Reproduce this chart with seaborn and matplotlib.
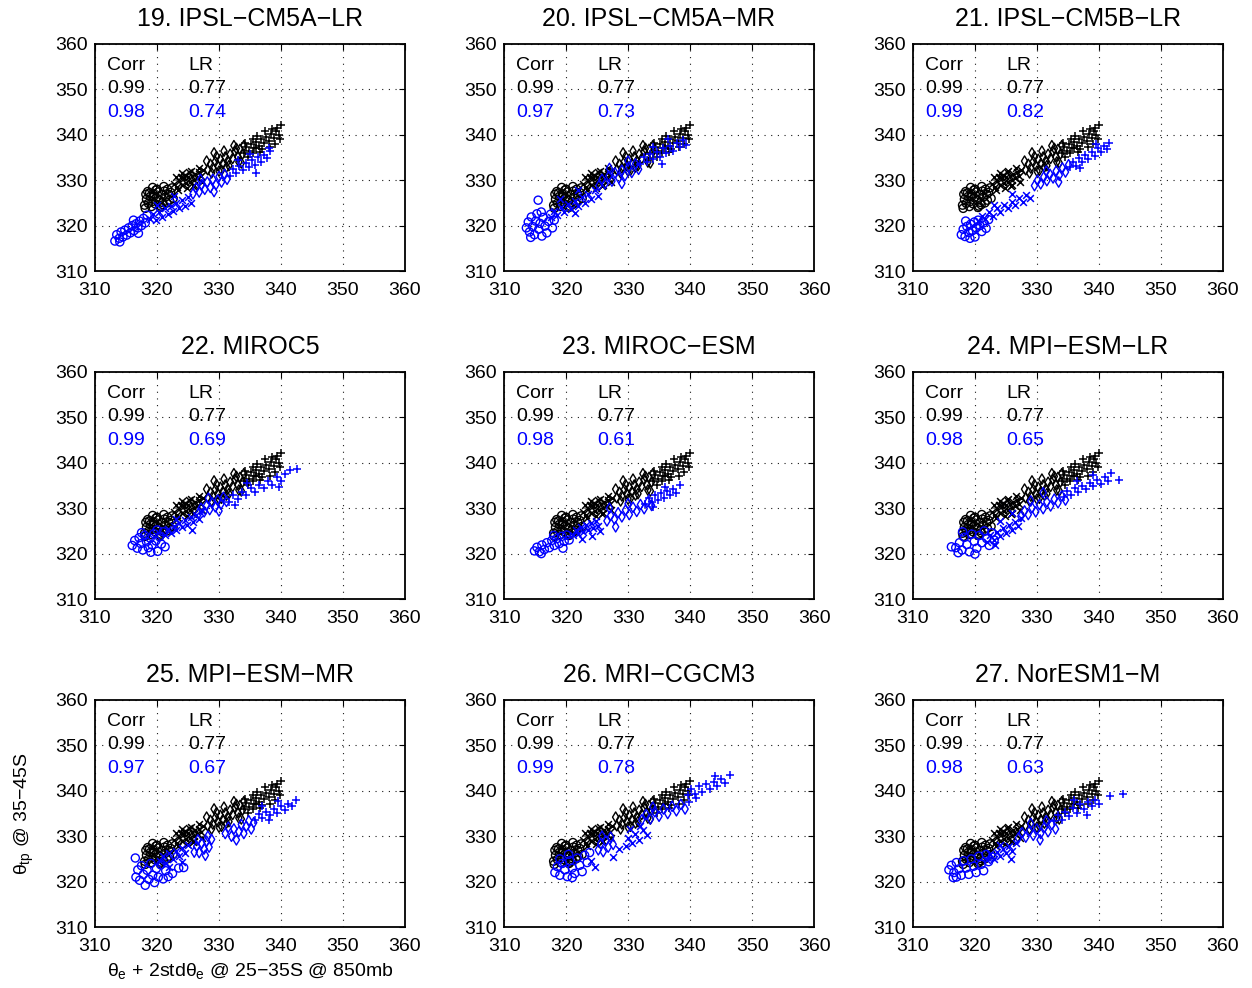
import matplotlib
matplotlib.use("Agg")
import matplotlib.pyplot as plt
import seaborn as sns
import pandas as pd

# ---------------------------------------------------------------------------
# Panel titles and the summary statistics printed inside each panel
# ---------------------------------------------------------------------------
titles = ["19. IPSL−CM5A−LR", "20. IPSL−CM5A−MR", "21. IPSL−CM5B−LR",
          "22. MIROC5", "23. MIROC−ESM", "24. MPI−ESM−LR",
          "25. MPI−ESM−MR", "26. MRI−CGCM3", "27. NorESM1−M"]
ref_corr = "0.99"
ref_lr = "0.77"
model_corr = ["0.98", "0.97", "0.99", "0.99", "0.98", "0.98", "0.97", "0.99", "0.98"]
model_lr = ["0.74", "0.73", "0.82", "0.69", "0.61", "0.65", "0.67", "0.78", "0.63"]

ticks = [310, 320, 330, 340, 350, 360]

# ---------------------------------------------------------------------------
# Reference (reanalysis) points, grouped by marker; same in every panel
# ---------------------------------------------------------------------------
ref_o = ([318.0, 318.3, 318.6, 318.9, 319.2, 319.4, 319.7, 319.9, 320.2, 320.4, 320.7, 320.9,
          321.2, 321.4, 321.7, 321.9, 322.2, 318.8, 320.0, 321.0, 322.4, 319.5, 318.2, 320.6,
          318.5, 319.1, 319.8, 320.5, 321.1, 321.6, 322.0, 318.1, 319.3, 322.6],
         [324.5, 325.8, 324.9, 326.4, 325.3, 327.0, 324.8, 326.1, 327.4, 325.6, 326.8, 325.1,
          327.6, 326.3, 328.0, 326.9, 327.3, 327.2, 328.0, 324.6, 328.3, 326.5, 326.9, 324.3,
          327.5, 324.2, 327.8, 324.0, 328.6, 325.0, 325.6, 323.8, 328.4, 326.0])
ref_x = ([323.2, 323.6, 324.0, 324.3, 324.7, 325.0, 325.3, 325.6, 325.9, 326.2, 326.5, 326.8,
          327.1, 324.5, 325.8, 323.8, 327.4, 322.8, 323.0, 323.4, 324.1, 324.9, 325.4, 326.0,
          326.7, 327.2, 325.1],
         [328.6, 329.8, 328.9, 330.4, 329.3, 330.8, 329.6, 331.0, 330.1, 331.4, 330.5, 331.7,
          330.9, 331.2, 328.8, 330.8, 332.2, 329.2, 330.8, 327.8, 331.6, 328.2, 332.0, 329.0,
          332.6, 329.6, 331.9])
ref_d = ([328.2, 328.6, 329.0, 329.4, 329.8, 330.2, 330.6, 331.0, 331.4, 331.8, 332.2, 332.6,
          333.0, 333.4, 333.8, 329.6, 331.2, 330.0, 332.8, 328.0, 328.8, 329.2, 330.4, 330.8,
          331.6, 332.4, 333.2, 334.0, 333.6],
         [332.3, 333.5, 332.7, 334.1, 333.2, 334.6, 333.6, 335.1, 334.2, 335.7, 334.8, 336.3,
          335.2, 336.8, 335.8, 335.2, 332.9, 332.0, 337.0, 334.2, 331.6, 336.0, 332.2, 336.4,
          333.2, 337.6, 334.0, 337.6, 333.8])
ref_p = ([334.0, 334.4, 334.8, 335.2, 335.6, 336.0, 336.4, 336.8, 337.2, 337.6, 338.0, 338.4,
          338.8, 339.2, 339.6, 335.5, 337.0, 338.6, 339.0, 340.0, 334.2, 334.6, 335.4, 336.2,
          336.6, 337.4, 338.2, 339.4, 339.8, 336.0],
         [336.0, 337.3, 336.5, 337.9, 337.0, 338.5, 337.6, 339.0, 338.2, 339.6, 338.7, 340.2,
          339.3, 340.8, 340.0, 339.0, 336.8, 341.2, 338.0, 342.2, 338.2, 335.2, 336.0, 339.8,
          336.2, 340.8, 337.2, 341.6, 339.0, 337.0])

# ---------------------------------------------------------------------------
# Model points, one small dict per model: marker -> (x values, y values)
# ---------------------------------------------------------------------------
ipsl_cm5a_lr = {
    "o": ([313.2, 313.5, 313.9, 314.2, 314.5, 314.8, 315.1, 315.4, 315.7, 316.0, 316.3, 316.6,
           316.9, 317.2, 317.5, 317.8, 318.1, 318.4, 314.0, 316.2, 317.0],
          [316.6, 318.0, 317.2, 318.6, 317.5, 319.0, 317.9, 319.5, 318.4, 320.0, 318.9, 320.4,
           319.5, 321.0, 320.0, 321.6, 320.6, 322.3, 316.4, 321.2, 318.3]),
    "x": ([318.8, 319.3, 319.8, 320.3, 320.8, 321.3, 321.7, 322.2, 322.6, 323.0, 323.5, 324.0,
           324.5, 325.0, 320.0, 322.8, 325.4],
          [321.5, 322.6, 321.2, 323.0, 322.0, 323.8, 322.5, 324.4, 323.2, 325.0, 323.8, 325.6,
           324.4, 326.4, 324.5, 326.5, 325.0]),
    "d": ([325.8, 326.3, 326.8, 327.2, 327.7, 328.1, 328.6, 329.0, 329.5, 330.0, 330.4, 330.9,
           331.3, 327.0, 329.2],
          [327.0, 328.3, 327.4, 329.0, 328.0, 329.6, 328.4, 330.2, 329.0, 330.8, 329.6, 331.3,
           330.2, 330.2, 327.5]),
    "+": ([331.8, 332.3, 332.8, 333.3, 333.8, 334.3, 334.8, 335.3, 335.8, 336.3, 336.8, 337.3,
           337.8, 338.2, 333.0, 335.0, 338.0, 336.0],
          [331.0, 332.5, 331.6, 333.2, 332.2, 333.8, 332.8, 334.4, 333.4, 335.0, 334.0, 335.6,
           334.8, 336.4, 334.5, 335.8, 337.0, 331.6]),
}
ipsl_cm5a_mr = {
    "o": ([313.6, 313.9, 314.1, 314.4, 314.6, 314.9, 315.1, 315.3, 315.6, 315.8, 316.1, 316.3,
           316.6, 316.9, 317.2, 317.5, 317.8, 318.1, 315.5, 314.3, 316.0],
          [319.5, 320.8, 318.6, 321.9, 319.8, 318.0, 321.0, 322.6, 319.2, 320.5, 317.7, 321.8,
           319.9, 318.4, 320.9, 322.5, 319.5, 321.2, 325.6, 317.4, 323.0]),
    "x": ([317.5, 318.0, 318.6, 319.2, 319.7, 320.3, 320.8, 321.4, 321.9, 322.5, 323.0, 323.6,
           324.1, 324.7, 325.2, 319.0, 322.0, 321.5],
          [322.0, 323.3, 322.4, 324.0, 322.9, 324.8, 323.6, 325.5, 324.3, 326.2, 325.0, 327.0,
           325.8, 327.8, 326.6, 325.8, 327.8, 322.8]),
    "d": ([325.3, 325.8, 326.3, 326.9, 327.4, 327.9, 328.5, 329.0, 329.5, 330.1, 330.6, 331.2,
           331.7, 327.0, 330.0, 329.0],
          [328.8, 330.2, 329.2, 330.9, 329.8, 331.6, 330.5, 332.2, 331.0, 332.9, 331.7, 333.6,
           332.4, 332.6, 334.2, 329.3]),
    "+": ([332.0, 332.5, 333.0, 333.6, 334.1, 334.6, 335.2, 335.7, 336.2, 336.8, 337.3, 337.9,
           338.4, 338.9, 339.4, 334.0, 336.5, 335.5],
          [333.5, 335.0, 334.0, 335.7, 334.6, 336.3, 335.2, 337.0, 335.9, 337.6, 336.5, 338.3,
           337.2, 338.9, 337.8, 337.3, 339.0, 333.6]),
}
ipsl_cm5b_lr = {
    "o": ([317.8, 318.1, 318.4, 318.7, 319.0, 319.3, 319.6, 319.9, 320.2, 320.5, 320.8, 321.1,
           321.4, 321.8, 322.2, 318.5, 320.0, 319.2],
          [318.0, 319.2, 317.6, 319.8, 318.5, 320.3, 318.9, 320.8, 319.5, 321.2, 320.0, 318.7,
           320.6, 319.4, 321.3, 321.0, 317.5, 317.2]),
    "x": ([320.5, 321.1, 321.7, 322.3, 322.9, 323.5, 324.1, 324.7, 325.3, 325.9, 326.5, 327.1,
           327.7, 328.3, 328.8, 323.0, 326.0],
          [321.0, 322.2, 321.4, 323.0, 322.2, 323.8, 323.0, 324.6, 323.8, 325.3, 324.6, 326.0,
           325.3, 326.8, 326.0, 324.6, 327.0]),
    "d": ([329.6, 330.1, 330.6, 331.1, 331.6, 332.1, 332.6, 333.1, 333.6, 334.1, 334.6, 335.1,
           331.5, 333.5],
          [328.8, 330.0, 329.2, 330.7, 329.9, 331.3, 330.5, 332.0, 331.1, 332.7, 331.8, 333.4,
           332.0, 329.6]),
    "+": ([335.3, 335.8, 336.3, 336.8, 337.3, 337.8, 338.3, 338.8, 339.3, 339.8, 340.3, 340.8,
           341.3, 341.7, 337.0, 339.5],
          [332.8, 334.0, 333.2, 334.8, 334.0, 335.5, 334.6, 336.2, 335.4, 337.0, 336.1, 337.6,
           336.8, 338.3, 332.6, 338.0]),
}
miroc5 = {
    "o": ([316.0, 316.4, 316.8, 317.1, 317.4, 317.7, 318.0, 318.3, 318.6, 318.9, 319.2, 319.5,
           319.8, 320.1, 320.4, 320.7, 321.0, 321.3, 317.5, 319.0, 320.0],
          [321.8, 322.9, 321.2, 323.5, 322.2, 320.8, 324.0, 322.6, 321.3, 323.4, 321.9, 324.4,
           322.8, 320.5, 323.7, 322.1, 324.8, 321.5, 324.6, 320.3, 325.2]),
    "x": ([321.3, 321.8, 322.2, 322.7, 323.1, 323.6, 324.0, 324.5, 324.9, 325.4, 325.8, 326.3,
           326.8, 327.2, 323.0, 325.6],
          [324.2, 325.5, 324.6, 326.1, 325.2, 326.8, 325.8, 327.4, 326.4, 328.0, 327.0, 328.6,
           327.6, 329.4, 327.6, 325.3]),
    "d": ([326.7, 327.1, 327.6, 328.0, 328.5, 328.9, 329.4, 329.8, 330.3, 330.7, 331.2, 328.3,
           330.0],
          [328.8, 330.0, 329.2, 330.6, 329.7, 331.2, 330.3, 331.8, 330.9, 332.4, 331.5, 332.2,
           329.4]),
    "+": ([331.6, 332.3, 333.0, 333.7, 334.4, 335.1, 335.8, 336.5, 337.2, 337.9, 338.6, 339.3,
           340.0, 340.6, 341.4, 342.6, 334.5, 339.6, 332.6],
          [331.4, 332.8, 332.0, 333.6, 332.8, 334.4, 333.6, 335.2, 334.4, 336.0, 335.2, 336.8,
           336.0, 337.6, 338.4, 338.6, 335.6, 334.6, 330.8]),
}
miroc_esm = {
    "o": ([314.9, 315.3, 315.7, 316.1, 316.5, 316.9, 317.3, 317.7, 318.1, 318.5, 318.9, 319.3,
           319.7, 320.1, 320.5, 316.0, 318.0, 319.5],
          [320.6, 321.4, 320.4, 321.9, 320.9, 322.4, 321.3, 322.9, 321.8, 323.3, 322.2, 323.8,
           322.7, 324.1, 323.0, 320.0, 324.0, 321.2]),
    "x": ([321.2, 321.6, 322.0, 322.4, 322.8, 323.2, 323.6, 324.0, 324.4, 324.8, 325.2, 322.6,
           324.2, 325.5],
          [324.0, 325.2, 324.3, 325.8, 324.8, 326.3, 325.3, 326.8, 325.6, 327.1, 326.0, 323.2,
           323.8, 325.0]),
    "d": ([326.6, 327.2, 327.8, 328.4, 329.0, 329.6, 330.2, 330.8, 331.4, 332.0, 332.6, 333.2,
           333.8, 328.0, 330.0, 327.0],
          [327.2, 328.4, 327.6, 329.0, 328.1, 329.6, 328.6, 330.2, 329.3, 330.8, 329.9, 331.4,
           330.6, 325.9, 331.0, 330.0]),
    "+": ([332.8, 333.3, 333.8, 334.3, 334.8, 335.3, 335.8, 336.3, 336.8, 337.3, 337.8, 338.3,
           334.0, 336.0],
          [330.9, 332.2, 331.3, 332.8, 331.8, 333.3, 332.3, 333.8, 332.9, 334.3, 333.4, 335.1,
           330.3, 334.6]),
}
mpi_esm_lr = {
    "o": ([316.2, 316.9, 317.5, 317.9, 318.3, 318.7, 319.1, 319.5, 319.9, 320.3, 320.7, 321.1,
           321.5, 321.9, 322.3, 322.7, 323.1, 318.0, 320.0, 317.3],
          [321.5, 321.3, 322.4, 320.8, 323.6, 322.0, 320.4, 324.3, 322.7, 321.2, 324.0, 322.4,
           325.0, 323.3, 321.8, 324.6, 323.0, 324.8, 319.9, 320.2]),
    "x": ([322.0, 322.5, 323.0, 323.5, 324.0, 324.5, 325.0, 325.5, 326.0, 326.5, 327.0, 327.5,
           324.0, 326.0, 323.2],
          [322.6, 324.0, 323.0, 324.8, 323.8, 325.6, 324.5, 326.3, 325.2, 327.0, 326.0, 327.8,
           327.2, 329.0, 322.0]),
    "d": ([327.4, 328.0, 328.6, 329.2, 329.8, 330.4, 331.0, 331.6, 332.2, 332.8, 333.4, 334.0,
           334.6, 331.0, 329.0],
          [328.2, 329.4, 328.6, 330.1, 329.2, 330.8, 329.9, 331.4, 330.5, 332.0, 331.2, 332.7,
           331.8, 333.4, 331.6]),
    "+": ([334.3, 334.9, 335.5, 336.1, 336.7, 337.3, 337.9, 338.5, 339.1, 339.7, 340.3, 340.9,
           341.5, 342.0, 343.3, 336.5, 339.0],
          [332.5, 333.8, 333.0, 334.4, 333.6, 335.0, 334.2, 335.6, 334.8, 336.2, 335.4, 336.8,
           336.0, 337.8, 336.2, 336.0, 337.4]),
}
mpi_esm_mr = {
    "o": ([316.6, 316.9, 317.2, 317.5, 317.8, 318.1, 318.4, 318.7, 319.0, 319.3, 319.6, 319.9,
           320.2, 320.6, 321.0, 321.4, 321.8, 316.5, 323.5, 324.3, 322.5],
          [321.0, 322.6, 320.3, 323.5, 321.6, 319.2, 322.5, 320.5, 324.0, 321.4, 319.8, 322.9,
           321.0, 323.7, 320.6, 322.4, 321.1, 325.2, 323.0, 323.1, 321.8]),
    "x": ([320.5, 321.0, 321.5, 322.0, 322.5, 323.0, 323.5, 324.0, 324.5, 325.0, 322.0, 324.0],
          [324.5, 325.6, 324.2, 326.2, 325.0, 326.8, 325.6, 327.5, 326.2, 328.0, 323.2, 324.4]),
    "d": ([326.0, 326.4, 326.8, 327.2, 327.6, 328.0, 328.4, 328.8, 326.6, 327.8, 328.2,
           331.0, 331.5, 332.0, 332.4, 332.8, 333.2, 333.6, 334.0, 334.4, 334.8, 335.2, 335.6],
          [326.5, 327.8, 326.4, 328.4, 327.2, 328.9, 327.6, 329.3, 329.2, 325.8, 330.0,
           330.6, 332.0, 330.0, 331.6, 329.2, 331.0, 332.6, 330.6, 332.2, 333.4, 331.6, 333.0]),
    "+": ([335.8, 336.4, 337.0, 337.6, 338.2, 338.8, 339.4, 340.0, 340.6, 341.2, 341.8, 342.4,
           337.0, 339.5, 338.0],
          [333.6, 334.8, 334.0, 335.4, 334.6, 336.0, 335.2, 336.6, 335.8, 337.2, 336.6, 338.0,
           336.6, 337.8, 333.6]),
}
mri_cgcm3 = {
    "o": ([318.2, 318.6, 319.0, 319.4, 319.8, 320.2, 320.6, 321.0, 321.4, 321.8, 322.2, 322.6,
           323.0, 323.4, 323.8, 319.0, 321.0, 320.4],
          [322.0, 323.3, 321.4, 324.0, 322.6, 321.1, 324.6, 323.0, 321.8, 325.2, 323.6, 322.2,
           325.8, 324.2, 326.4, 325.0, 320.9, 326.0]),
    "x": ([324.0, 324.6, 327.5, 328.5, 330.0, 330.6, 331.2, 331.8, 332.4, 333.0, 330.3, 332.0,
           329.6],
          [324.5, 323.2, 325.5, 327.2, 329.5, 328.4, 330.4, 329.2, 331.4, 330.2, 331.6, 332.2,
           327.8]),
    "d": ([325.2, 325.6, 326.0, 326.4, 326.8, 327.2, 327.6, 325.8,
           332.2, 332.9, 333.6, 334.3, 335.0, 335.7, 336.4, 337.1, 337.8, 338.5, 339.2, 334.0],
          [327.0, 328.4, 326.6, 329.0, 327.6, 329.8, 328.2, 330.0,
           333.6, 334.8, 333.8, 335.4, 334.4, 336.0, 335.0, 336.6, 335.6, 337.0, 336.0, 336.4]),
    "+": ([339.6, 340.2, 340.8, 341.4, 342.0, 342.6, 343.2, 343.8, 344.4, 345.0, 345.6, 346.4,
           341.0, 344.0, 339.8],
          [339.0, 340.4, 339.4, 341.0, 339.8, 341.5, 340.4, 342.0, 341.0, 342.6, 341.8, 343.4,
           338.4, 343.2, 337.6]),
}
noresm1_m = {
    "o": ([315.8, 316.2, 316.6, 317.0, 317.4, 317.8, 318.2, 318.6, 319.0, 319.4, 319.8, 320.2,
           320.6, 321.0, 321.4, 321.8, 322.2, 322.8, 317.0, 316.5],
          [322.6, 323.6, 322.0, 324.2, 322.8, 321.4, 324.6, 323.0, 321.6, 325.0, 323.4, 322.0,
           325.6, 323.8, 322.4, 326.0, 324.4, 325.4, 321.0, 320.9]),
    "x": ([322.0, 322.5, 323.0, 323.5, 324.0, 324.5, 325.0, 325.5, 326.0, 326.6, 324.0, 325.8],
          [324.8, 326.0, 325.0, 326.6, 325.6, 327.2, 326.2, 327.8, 326.8, 328.6, 328.0, 325.0]),
    "d": ([327.0, 327.6, 328.2, 328.8, 329.4, 330.0, 330.6, 331.2, 331.8, 332.4, 333.0, 329.0,
           331.5, 330.5],
          [329.6, 330.8, 329.8, 331.2, 330.2, 331.6, 330.6, 332.0, 331.0, 332.6, 331.6, 332.8,
           333.4, 329.2]),
    "+": ([332.8, 333.4, 334.0, 334.6, 335.2, 335.8, 336.4, 337.0, 337.6, 338.2, 338.8, 339.4,
           340.0, 341.8, 343.9, 336.0, 338.0],
          [333.4, 334.6, 333.6, 335.4, 334.4, 336.2, 335.2, 337.0, 336.0, 337.6, 336.6, 338.0,
           337.0, 338.9, 339.2, 338.0, 334.6]),
}

models = [ipsl_cm5a_lr, ipsl_cm5a_mr, ipsl_cm5b_lr, miroc5, miroc_esm,
          mpi_esm_lr, mpi_esm_mr, mri_cgcm3, noresm1_m]
reference = {"o": ref_o, "x": ref_x, "d": ref_d, "+": ref_p}

# ---------------------------------------------------------------------------
# Styling
# ---------------------------------------------------------------------------
sns.set_theme(style="white")
plt.rcParams["font.family"] = ["Liberation Sans", "DejaVu Sans"]
plt.rcParams["mathtext.fontset"] = "custom"
plt.rcParams["mathtext.rm"] = "Liberation Sans"
plt.rcParams["mathtext.it"] = "Liberation Sans"
plt.rcParams["mathtext.bf"] = "Liberation Sans"
plt.rcParams["axes.unicode_minus"] = True
plt.rcParams["text.color"] = "black"
plt.rcParams["axes.labelcolor"] = "black"
plt.rcParams["axes.titlecolor"] = "black"
plt.rcParams["xtick.color"] = "black"
plt.rcParams["ytick.color"] = "black"

BLUE = "#0000ff"
BLACK = "#000000"
FS = 14
MARKER_SIZE = {"o": 34, "x": 24, "d": 28, "+": 38}


def draw_group(ax, pts, marker, color):
    xs, ys = pts
    df = pd.DataFrame({"x": xs, "y": ys})
    if marker in ("o", "d"):
        sns.scatterplot(data=df, x="x", y="y", marker=marker, s=MARKER_SIZE[marker],
                        facecolors="none", edgecolor=color, linewidth=1.0, ax=ax,
                        legend=False, zorder=3)
    else:
        sns.scatterplot(data=df, x="x", y="y", marker=marker, s=MARKER_SIZE[marker],
                        color=color, linewidth=1.1, ax=ax, legend=False, zorder=3)


fig = plt.figure(figsize=(12.52, 9.88), dpi=100)
lefts = [0.0759, 0.4026, 0.7292]
bottoms = [0.7257, 0.3937, 0.0617]
width, height = 0.2476, 0.2298

for i, (title, data) in enumerate(zip(titles, models)):
    r, c = divmod(i, 3)
    ax = fig.add_axes([lefts[c], bottoms[r], width, height])
    for m, pts in reference.items():
        draw_group(ax, pts, m, BLACK)
    for m, pts in data.items():
        draw_group(ax, pts, m, BLUE)

    ax.set_xlim(310, 360)
    ax.set_ylim(310, 360)
    ax.set_xticks(ticks)
    ax.set_yticks(ticks)
    ax.set_xticklabels([str(t) for t in ticks], fontsize=FS)
    ax.set_yticklabels([str(t) for t in ticks], fontsize=FS)
    ax.tick_params(direction="in", length=4, width=0.8, top=True, right=True,
                   colors="black")
    ax.tick_params(axis="x", pad=8)
    ax.tick_params(axis="y", pad=5)
    ax.grid(True, linestyle=(0, (1, 5)), color="black", linewidth=0.8, alpha=0.9)
    for sp in ax.spines.values():
        sp.set_visible(True)
        sp.set_color("black")
        sp.set_linewidth(1.3)
    ax.set_xlabel("")
    ax.set_ylabel("")
    ax.set_title(title, fontsize=18, pad=13, color="black")

    ax.text(312, 355.2, "Corr", fontsize=FS, va="center", ha="left", color=BLACK)
    ax.text(325, 355.2, "LR", fontsize=FS, va="center", ha="left", color=BLACK)
    ax.text(312, 350.1, ref_corr, fontsize=FS, va="center", ha="left", color=BLACK)
    ax.text(325, 350.1, ref_lr, fontsize=FS, va="center", ha="left", color=BLACK)
    ax.text(312, 345.0, model_corr[i], fontsize=FS, va="center", ha="left", color=BLUE)
    ax.text(325, 345.0, model_lr[i], fontsize=FS, va="center", ha="left", color=BLUE)

    if i == 6:
        ax.set_ylabel(r"$\theta_{\rm tp}$ @ 35−45S", fontsize=FS, labelpad=14)
        ax.set_xlabel(r"$\theta_{\rm e}$ + 2std$\theta_{\rm e}$ @ 25−35S @ 850mb",
                      fontsize=FS, labelpad=4)

fig.savefig("out.png", dpi=100, facecolor="white")
